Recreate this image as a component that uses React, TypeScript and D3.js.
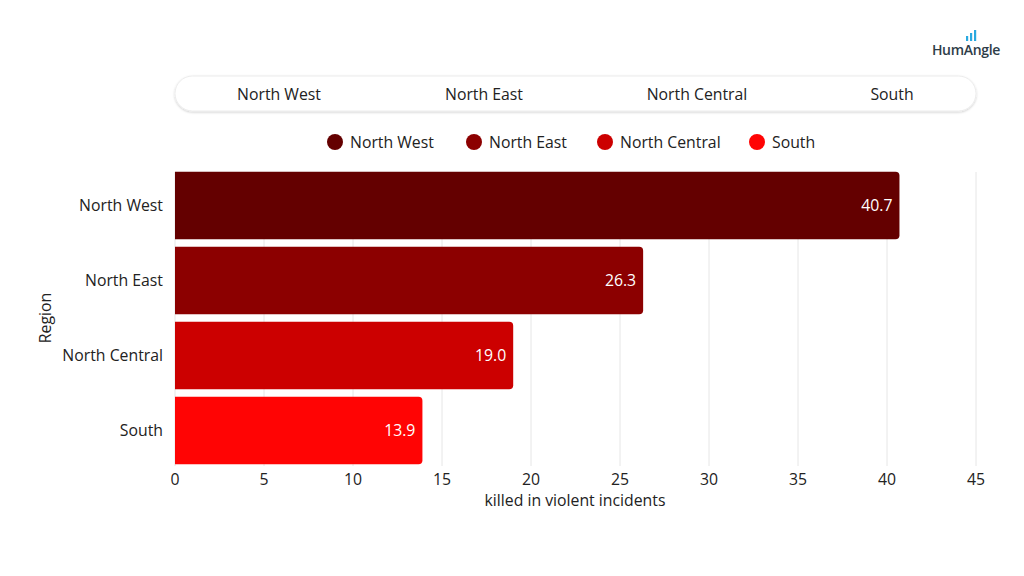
import React from "react";
import * as d3 from "d3";

const regions = ["North West", "North East", "North Central", "South"];
const values = [40.7, 26.3, 19.0, 13.9];
const colors = ["#640000", "#8c0000", "#cc0000", "#ff0404"];
const xTicks = [0, 5, 10, 15, 20, 25, 30, 35, 40, 45];
const toggleCenters = [279, 484, 697, 892];
const legendX = [335, 474, 605, 757];

const FONT = "'Open Sans', sans-serif";

export default function App() {
  const W = 1024, H = 576;
  const left = 175, right = 976, top = 168, bottom = 468;
  const x = d3.scaleLinear().domain([0, 45]).range([left, right]);
  const y = d3.scaleBand().domain(regions).range([top, bottom]).paddingInner(0.1).paddingOuter(0.05);
  const r = 4;
  const barPath = (x0: number, x1: number, y0: number, h: number) => {
    const p = d3.path();
    p.moveTo(x0, y0);
    p.lineTo(x1 - r, y0);
    p.arcTo(x1, y0, x1, y0 + r, r);
    p.lineTo(x1, y0 + h - r);
    p.arcTo(x1, y0 + h, x1 - r, y0 + h, r);
    p.lineTo(x0, y0 + h);
    p.closePath();
    return p.toString();
  };
  const fs = 15.8;
  return (
    <svg width={W} height={H} style={{ position: "absolute", left: 0, top: 0, background: "#fff" }} fontFamily={FONT}>
      <defs>
        <filter id="sh" x="-5%" y="-50%" width="110%" height="200%">
          <feDropShadow dx="0" dy="1" stdDeviation="1.2" floodColor="#000" floodOpacity="0.18" />
        </filter>
      </defs>
      {/* logo */}
      <g fill="#29a9e0">
        <rect x={966} y={36} width={2.2} height={5} />
        <rect x={970} y={33} width={2.2} height={8} />
        <rect x={974} y={30} width={2.2} height={11} />
      </g>
      <text x={966} y={55} textAnchor="middle" fontSize={14} fontWeight={600} fill="#2e3d48" letterSpacing={-0.3}>HumAngle</text>
      {/* toggle */}
      <rect x={175} y={76} width={801} height={35} rx={17.5} fill="#fff" stroke="#ececec" filter="url(#sh)" />
      {regions.map((d, i) => (
        <text key={d} x={toggleCenters[i]} y={99.5} textAnchor="middle" fontSize={fs} fill="#222">{d}</text>
      ))}
      {/* legend */}
      {regions.map((d, i) => (
        <g key={d}>
          <circle cx={legendX[i]} cy={142} r={8} fill={colors[i]} />
          <text x={legendX[i] + 15} y={147.5} fontSize={fs} fill="#222">{d}</text>
        </g>
      ))}
      {/* grid */}
      {xTicks.map((t) => (
        <line key={t} x1={x(t)} x2={x(t)} y1={172} y2={466} stroke="#e6e6e6" strokeWidth={1} />
      ))}
      {/* bars */}
      {regions.map((d, i) => {
        const y0 = y(d)!;
        const h = y.bandwidth();
        return (
          <g key={d}>
            <path d={barPath(x(0), x(values[i]), y0, h)} fill={colors[i]} />
            <text x={x(values[i]) - 7} y={y0 + h / 2 + 5.5} textAnchor="end" fontSize={fs} fill="#fff">
              {values[i].toFixed(1)}
            </text>
            <text x={163} y={y0 + h / 2 + 5.5} textAnchor="end" fontSize={fs} fill="#222">{d}</text>
          </g>
        );
      })}
      {/* x ticks */}
      {xTicks.map((t) => (
        <text key={t} x={x(t)} y={485} textAnchor="middle" fontSize={fs} fill="#222">{t}</text>
      ))}
      <text x={575} y={506} textAnchor="middle" fontSize={fs} fill="#222">killed in violent incidents</text>
      <text transform="translate(51,318) rotate(-90)" textAnchor="middle" fontSize={fs} fill="#222">Region</text>
    </svg>
  );
}
